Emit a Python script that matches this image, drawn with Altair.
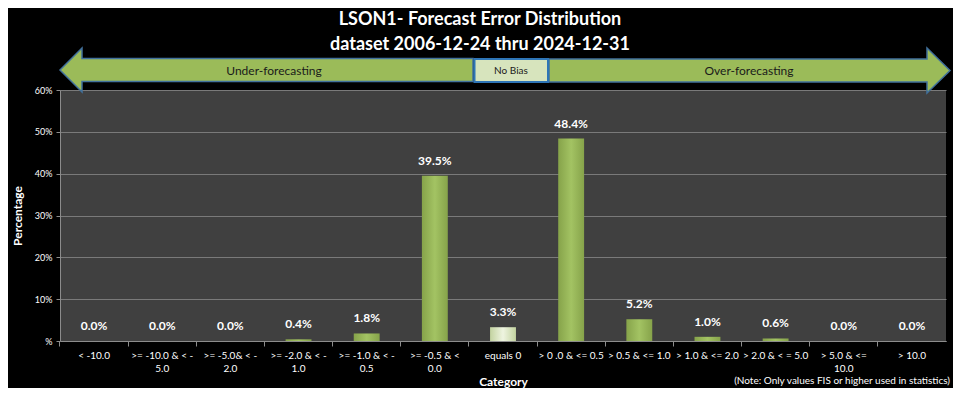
import altair as alt
import pandas as pd

categories = [
    "< -10.0", ">= -10.0 & < -\n5.0", ">= -5.0& < -\n2.0", ">= -2.0 & < -\n1.0",
    ">= -1.0 & < -\n0.5", ">= -0.5 & <\n0.0", "equals 0", "> 0 .0 & <= 0.5",
    "> 0.5 & <= 1.0", "> 1.0 & <= 2.0", "> 2.0 & < = 5.0", "> 5.0 & <=\n10.0", "> 10.0",
]
percentages = [0.0, 0.0, 0.0, 0.4, 1.8, 39.5, 3.3, 48.4, 5.2, 1.0, 0.6, 0.0, 0.0]
y_ticks = [0.0, 0.1, 0.2, 0.3, 0.4, 0.5, 0.6]
title_line1 = "LSON1- Forecast Error Distribution"
title_line2 = "dataset 2006-12-24  thru 2024-12-31"
note_text = "(Note: Only values FIS or higher used in statistics)"

df = pd.DataFrame({"category": categories, "value": [p / 100 for p in percentages]})

FONT = "Lato"
GRAY = "#8c8c8c"

x_scale = alt.Scale(paddingInner=0, paddingOuter=0)
y_enc = alt.Y(
    "value:Q",
    scale=alt.Scale(domain=[0, 0.6]),
    axis=alt.Axis(
        values=y_ticks,
        labelExpr="datum.value == 0 ? '%' : format(datum.value, '.0%')",
        title="Percentage", titleFontSize=12, titleFontWeight="bold", titleColor="white",
        titleFont=FONT, titlePadding=10,
        labelFontSize=9, labelColor="white", labelFont=FONT, labelPadding=4,
        tickSize=4, tickColor=GRAY, domainColor=GRAY,
        grid=True, gridColor="#7a7a7a", gridWidth=1,
    ),
)

x_label_axis = alt.Axis(
    orient="bottom", ticks=False, domainColor=GRAY, labelAngle=0,
    labelExpr="split(datum.label, '\\n')", labelFontSize=10, labelColor="white",
    labelFont=FONT, labelPadding=9, labelLineHeight=13,
    title="Category", titleFontSize=12, titleFontWeight="bold", titleColor="white",
    titleFont=FONT, titlePadding=3, grid=False,
)
x_tick_axis = alt.Axis(
    orient="bottom", labels=False, domain=False, ticks=True, bandPosition=0,
    tickSize=5, tickColor=GRAY, title=None, grid=False,
)

base = alt.Chart(df)

green_grad = alt.Gradient(
    gradient="linear", x1=0, x2=1, y1=0, y2=0,
    stops=[alt.GradientStop(color="#86a34a", offset=0), alt.GradientStop(color="#a3c363", offset=0.5),
           alt.GradientStop(color="#86a34a", offset=1)],
)
light_grad = alt.Gradient(
    gradient="linear", x1=0, x2=1, y1=0, y2=0,
    stops=[alt.GradientStop(color="#c3d3a0", offset=0), alt.GradientStop(color="#eef4e0", offset=0.5),
           alt.GradientStop(color="#c3d3a0", offset=1)],
)

bars = base.transform_filter(alt.datum.category != "equals 0").mark_bar(
    width=alt.RelativeBandSize(0.38), color=green_grad
).encode(
    x=alt.X("category:N", sort=categories, scale=x_scale, axis=x_label_axis),
    y=y_enc,
)
bars0 = base.transform_filter(alt.datum.category == "equals 0").mark_bar(
    width=alt.RelativeBandSize(0.38), color=light_grad
).encode(
    x=alt.X("category:N", sort=categories, scale=x_scale, axis=None),
    y=y_enc,
)
labels = base.mark_text(
    baseline="bottom", dy=-8, fontSize=12, fontWeight="bold", color="white", font=FONT
).encode(
    x=alt.X("category:N", sort=categories, scale=x_scale, axis=x_tick_axis),
    y=y_enc,
    text=alt.Text("value:Q", format=".1%"),
)

one = alt.Data(values=[{"k": 1}])
left_path = "M -2.065 0 L -1.845 -0.22 L -1.845 -0.115 L 2.065 -0.115 L 2.065 0.115 L -1.845 0.115 L -1.845 0.22 Z"
right_path = "M 2.005 0 L 1.775 -0.225 L 1.775 -0.115 L -2.005 -0.115 L -2.005 0.115 L 1.775 0.115 L 1.775 0.225 Z"

left_arrow = alt.Chart(one).mark_point(
    shape=left_path, size=40000, filled=True, fill="#9bbb59", stroke="#41719c", strokeWidth=1.5, opacity=1
).encode(x=alt.value(206.5), y=alt.value(-20))
right_arrow = alt.Chart(one).mark_point(
    shape=right_path, size=40000, filled=True, fill="#9bbb59", stroke="#41719c", strokeWidth=1.5, opacity=1
).encode(x=alt.value(689.5), y=alt.value(-19.5))
box = alt.Chart(one).mark_rect(fill="#d7e4bd", stroke="#2e75b6", strokeWidth=2).encode(
    x=alt.value(414.5), x2=alt.value(488), y=alt.value(-31), y2=alt.value(-8)
)
t_under = alt.Chart(one).mark_text(fontSize=12, color="#1a1a1a", font=FONT).encode(
    x=alt.value(214), y=alt.value(-19.5), text=alt.value("Under-forecasting"))
t_nobias = alt.Chart(one).mark_text(fontSize=10, color="#1a1a1a", font=FONT).encode(
    x=alt.value(451), y=alt.value(-19), text=alt.value("No  Bias"))
t_over = alt.Chart(one).mark_text(fontSize=12, color="#1a1a1a", font=FONT).encode(
    x=alt.value(689), y=alt.value(-19), text=alt.value("Over-forecasting"))
t_note = alt.Chart(one).mark_text(fontSize=10, color="white", font=FONT, align="right").encode(
    x=alt.value(890), y=alt.value(291), text=alt.value(note_text))
t_title1 = alt.Chart(one).mark_text(fontSize=18, fontWeight="bold", color="white", font=FONT).encode(
    x=alt.value(420), y=alt.value(-70), text=alt.value(title_line1))
t_title2 = alt.Chart(one).mark_text(fontSize=18, fontWeight="bold", color="white", font=FONT).encode(
    x=alt.value(420), y=alt.value(-45), text=alt.value(title_line2))

chart = alt.layer(
    bars, bars0, labels, left_arrow, right_arrow, box, t_under, t_nobias, t_over, t_note,
    t_title1, t_title2,
).resolve_axis(x="independent").properties(
    width=886, height=251,
    autosize=alt.AutoSizeParams(type="none"),
    padding={"left": 52, "top": 82, "right": 7, "bottom": 47},
    background="black",
).configure_view(fill="#404040", stroke=None)

chart.save("out.html", embed_options={"renderer": "svg", "actions": False})
